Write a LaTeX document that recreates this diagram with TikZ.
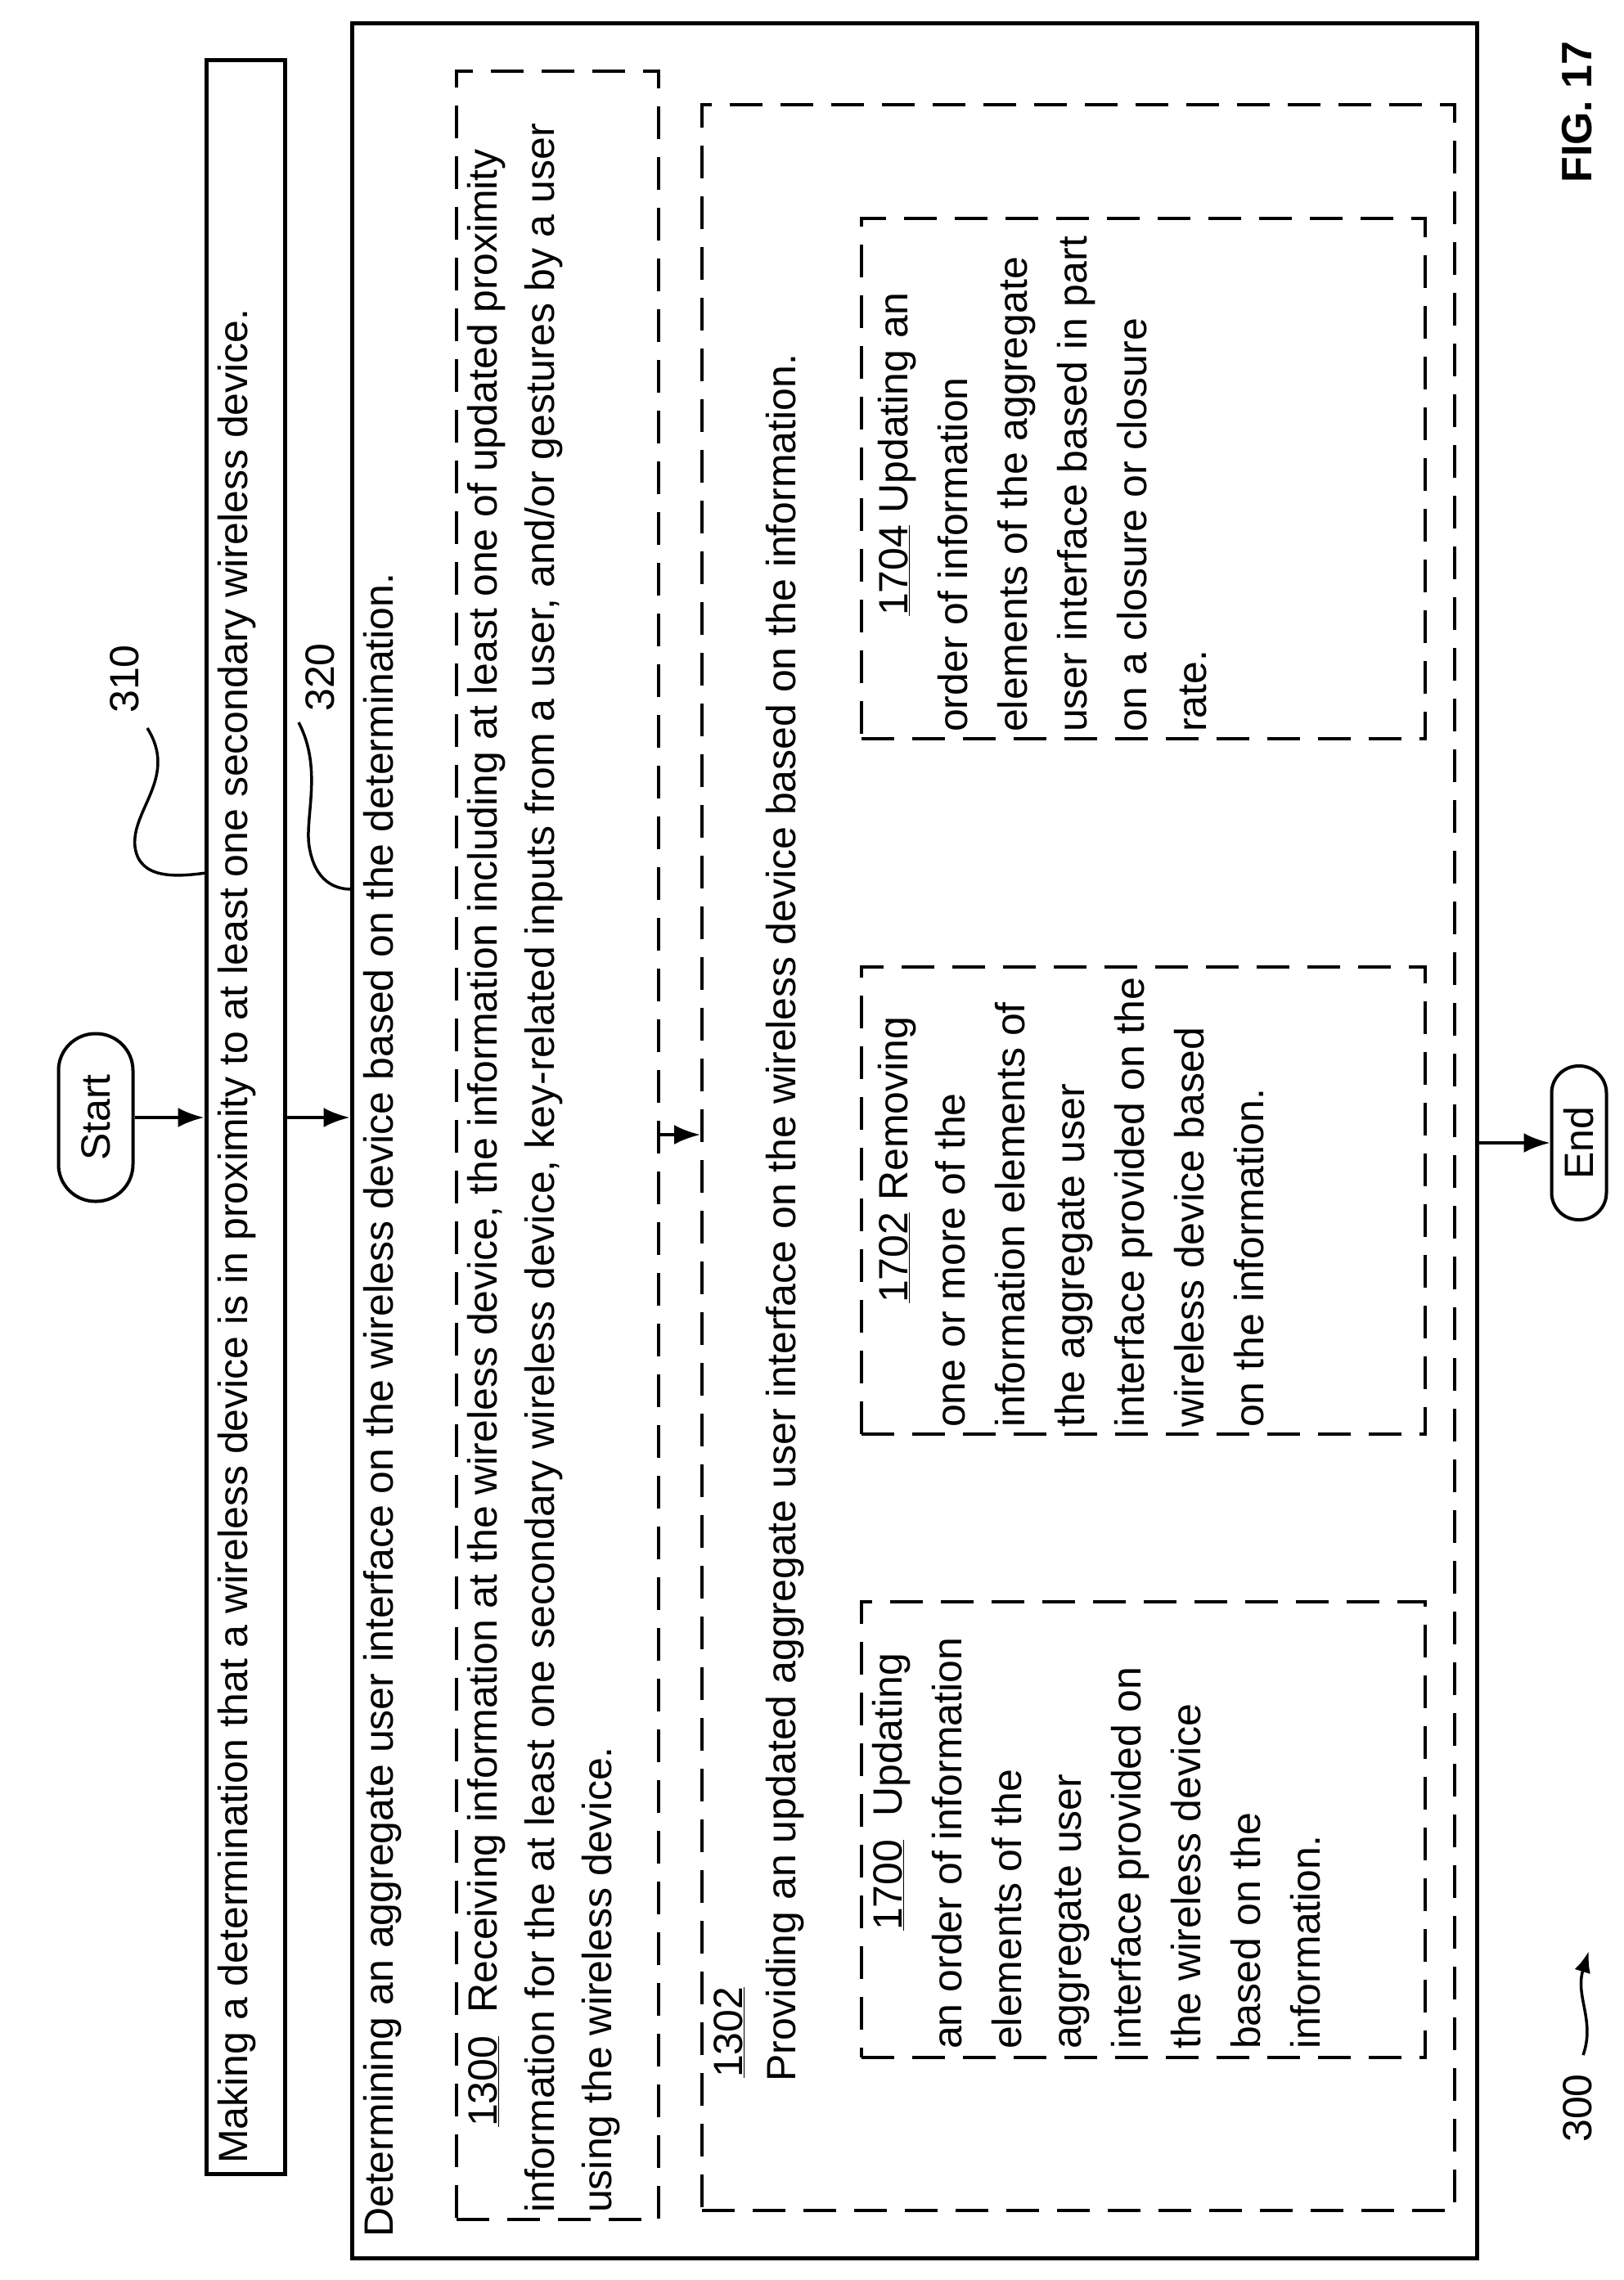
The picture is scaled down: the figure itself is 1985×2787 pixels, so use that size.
\documentclass[tikz,border=0pt]{standalone}
\usepackage{fontspec}
\setmainfont{Liberation Sans}
\usetikzlibrary{arrows.meta}
\begin{document}
\begin{tikzpicture}[x=1pt,y=-1pt,
  solid box/.style={draw, line width=5pt, inner sep=0pt},
  dash box/.style={draw, line width=4pt, inner sep=0pt, dash pattern=on 40pt off 22pt},
  oval/.style={draw, line width=4pt, rotate=90, rounded corners=30pt, inner sep=0pt, font=\fontsize{50}{60}\selectfont},
  txt/.style={rotate=90, anchor=mid west, inner sep=0pt, font=\fontsize{50}{60}\selectfont},
  lbl/.style={rotate=90, inner sep=0pt, font=\fontsize{50}{60}\selectfont},
  arr/.style={line width=4pt, -{Latex[length=32pt,width=24pt]}},
  lead/.style={line width=3.5pt}]
\useasboundingbox (0,0) rectangle (1985,2787);

% boxes
\node[solid box, minimum width=96pt, minimum height=2584pt] (b310) at (300,1365) {};
\node[solid box, minimum width=1375pt, minimum height=2732pt] (b320) at (1117.5,1394) {};
\node[dash box, minimum width=247pt, minimum height=2626pt] (b1300) at (681.5,1400) {};
\node[dash box, minimum width=920pt, minimum height=2574pt] (b1302) at (1318,1415) {};
\node[dash box, minimum width=689pt, minimum height=636pt] (b1704) at (1397.5,585) {};
\node[dash box, minimum width=689pt, minimum height=571pt] (b1702) at (1397.5,1467.5) {};
\node[dash box, minimum width=689pt, minimum height=557pt] (b1700) at (1397.5,2236.5) {};

% terminals
\node[oval, minimum width=205pt, minimum height=91pt, rounded corners=45pt] (start) at (117,1366) {Start};
\node[oval, minimum width=188pt, minimum height=67pt, rounded corners=33pt] (endn) at (1930,1397) {End};

% texts
\node[txt] (t310) at (300,2645) {Making a determination that a wireless device is in proximity to at least one secondary wireless device.};
\node[txt] (t320) at (478,2735) {Determining an aggregate user interface on the wireless device based on the determination.};
\node[txt] (t1300a) at (605,2600) {\underline{1300}\ \ Receiving information at the wireless device, the information including at least one of updated proximity};
\node[txt] (t1300b) at (675,2705) {information for the at least one secondary wireless device, key-related inputs from a user, and/or gestures by a user};
\node[txt] (t1300c) at (745,2705) {using the wireless device.};
\node[txt] (t1302a) at (905,2540) {\underline{1302}};
\node[txt] (t1302b) at (970,2545) {Providing an updated aggregate user interface on the wireless device based on the information.};

\node[txt] (a1) at (1100,2360) {\underline{1700}\ \ Updating};
\node[txt] (a2) at (1173,2505) {an order of information};
\node[txt] (a3) at (1246,2505) {elements of the};
\node[txt] (a4) at (1319,2505) {aggregate user};
\node[txt] (a5) at (1392,2505) {interface provided on};
\node[txt] (a6) at (1465,2505) {the wireless device};
\node[txt] (a7) at (1538,2505) {based on the};
\node[txt] (a8) at (1611,2505) {information.};

\node[txt] (c1) at (1107,1593) {\underline{1702} Removing};
\node[txt] (c2) at (1177,1745) {one or more of the};
\node[txt] (c3) at (1250,1745) {information elements of};
\node[txt] (c4) at (1323,1745) {the aggregate user};
\node[txt] (c5) at (1396,1745) {interface provided on the};
\node[txt] (c6) at (1469,1745) {wireless device based};
\node[txt] (c7) at (1542,1745) {on the information.};

\node[txt] (d1) at (1107,753) {\underline{1704} Updating an};
\node[txt] (d2) at (1180,895) {order of information};
\node[txt] (d3) at (1253,895) {elements of the aggregate};
\node[txt] (d4) at (1326,895) {user interface based in part};
\node[txt] (d5) at (1399,895) {on a closure or closure};
\node[txt] (d6) at (1472,895) {rate.};

% labels
\node[lbl] (l310) at (152,830) {310};
\node[lbl] (l320) at (391,828) {320};
\node[lbl] (l300) at (1928,2577) {300};
\node[lbl, font=\bfseries\fontsize{52}{60}\selectfont] (fig) at (1928,137) {FIG. 17};

% connectors
\coordinate (m) at (0,1387);
\draw[arr] (start) -- (start -| b310.west);
\draw[arr] (b310.east |- start) -- (b320.west |- start);
\draw[arr] (b1300.east |- m) -- (b1302.west |- m);
\draw[arr] (b320.east |- endn) -- (endn);

% leaders
\coordinate (e310) at (252,1067);
\coordinate (e320) at (430,1087);
\coordinate (s300) at (1935,2512);
\coordinate (p300) at (1942,2385);
\draw[lead] (180,890) .. controls (218,950) and (160,990) .. (165,1035) .. controls (170,1075) and (215,1072) .. (e310);
\draw[lead] (365,883) .. controls (395,940) and (372,1000) .. (378,1035) .. controls (385,1078) and (410,1087) .. (e320);
\draw[line width=3.5pt, -{Latex[length=26pt,width=20pt]}] (s300) .. controls (1950,2470) and (1925,2440) .. (p300);
\end{tikzpicture}
\end{document}
